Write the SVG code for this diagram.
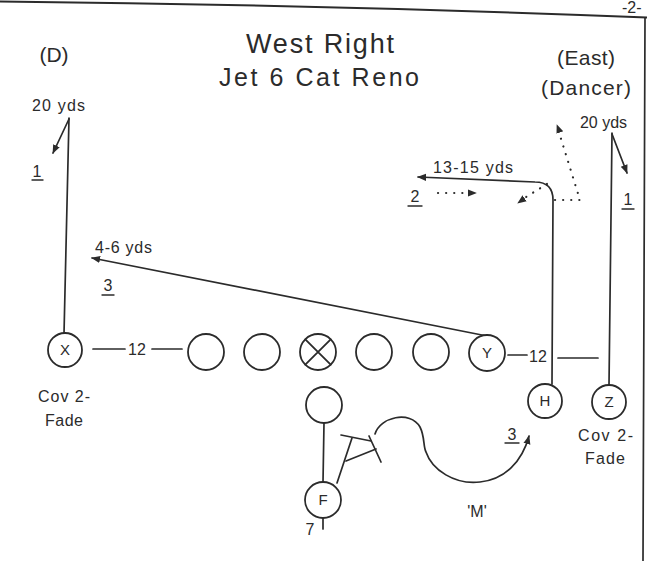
<svg xmlns="http://www.w3.org/2000/svg" width="647" height="561" viewBox="0 0 647 561">
<defs>
<style>
.t{font-family:"Liberation Sans",Arial,sans-serif;fill:#2b2b2b}
.s{font-size:16px}
.ln{stroke:#2b2b2b;stroke-width:1.7;fill:none;stroke-linecap:round}
.dot{stroke:#2b2b2b;stroke-width:2.2;fill:none;stroke-dasharray:0.1 8;stroke-linecap:round}
.pl{stroke:#2b2b2b;stroke-width:1.8;fill:#fff}
.c{font-family:"Liberation Sans",Arial,sans-serif;font-size:15px;fill:#2b2b2b;text-anchor:middle}
</style>
<marker id="ah" viewBox="0 0 10 10" refX="9" refY="5" markerWidth="9" markerHeight="9" markerUnits="userSpaceOnUse" orient="auto">
<path d="M0,1 L10,5 L0,9 z" fill="#2b2b2b"/>
</marker>
</defs>
<rect width="647" height="561" fill="#fff"/>

<g id="frame">
<path class="ln" d="M0,1.5 Q330,5 647,17.5" style="stroke-width:2"/>
<line class="ln" x1="645" y1="18" x2="643" y2="561"/>
<text class="t s" x="622" y="13">-2-</text>
</g>

<g id="titles">
<text class="t" x="246" y="53" font-size="27" textLength="148">West Right</text>
<text class="t" x="219" y="86" font-size="25" textLength="200">Jet 6 Cat Reno</text>
<text class="t" x="54" y="62" font-size="21" text-anchor="middle">(D)</text>
<text class="t" x="557" y="65" font-size="21" textLength="58">(East)</text>
<text class="t" x="541" y="95" font-size="21" textLength="90">(Dancer)</text>
</g>

<g id="connectors">
<!-- X route -->
<line class="ln" x1="64" y1="334" x2="69" y2="118"/>
<line class="ln" x1="69" y1="119" x2="53" y2="153" marker-end="url(#ah)"/>
<!-- Y route -->
<line class="ln" x1="487" y1="336" x2="92" y2="258" marker-end="url(#ah)"/>
<!-- H route -->
<path class="ln" d="M552,384 L553,200 Q553,182 535,182 L418,177" marker-end="url(#ah)"/>
<path class="dot" d="M555,200 L580,200 L557,126"/>
<path class="ln" d="M562,138 L557,125" marker-end="url(#ah)" style="stroke-width:0"/>
<path class="dot" d="M547,184 L526,197"/>
<path class="ln" d="M525,198 L518,203" marker-end="url(#ah)" style="stroke-width:0"/>
<path class="dot" d="M438,193 L468,193"/>
<path class="ln" d="M466,193 L476,193" marker-end="url(#ah)" style="stroke-width:0"/>
<!-- Z route -->
<line class="ln" x1="609" y1="385" x2="612" y2="133"/>
<line class="ln" x1="612" y1="134" x2="627" y2="173" marker-end="url(#ah)"/>
<!-- splits -->
<line class="ln" x1="93" y1="349" x2="125" y2="349"/>
<line class="ln" x1="152" y1="349" x2="182" y2="349"/>
<line class="ln" x1="508" y1="355" x2="527" y2="355"/>
<line class="ln" x1="558" y1="358" x2="598" y2="358"/>
<!-- backfield -->
<line class="ln" x1="324" y1="423" x2="323" y2="482"/>
<line class="ln" x1="323" y1="518" x2="323" y2="529"/>
<line class="ln" x1="337" y1="483" x2="352" y2="438"/>
<line class="ln" x1="341" y1="435" x2="371" y2="441"/>
<line class="ln" x1="346" y1="461" x2="376" y2="449"/>
<line class="ln" x1="369" y1="436" x2="381" y2="462"/>
<path class="ln" d="M375,434 C380,417 410,410 420,427 C425,437 423,446 426,452 C432,470 455,485 480,482 C505,479 522,462 529,436" marker-end="url(#ah)"/>
</g>

<g id="labels">
<text class="t s" x="32" y="111" textLength="53">20 yds</text>
<text class="t s" x="580" y="128" textLength="47">20 yds</text>
<text class="t s" x="95" y="253" textLength="57">4-6 yds</text>
<text class="t s" x="433" y="173" textLength="80">13-15 yds</text>
<text class="t" x="37" y="177" font-size="16" text-anchor="middle">1</text>
<line class="ln" x1="32" y1="180" x2="43" y2="180" style="stroke-width:1.4"/>
<text class="t" x="628" y="205" font-size="16" text-anchor="middle">1</text>
<line class="ln" x1="622" y1="209" x2="634" y2="209" style="stroke-width:1.4"/>
<text class="t" x="415" y="202" font-size="16" text-anchor="middle">2</text>
<line class="ln" x1="408" y1="206" x2="422" y2="206" style="stroke-width:1.4"/>
<text class="t" x="108" y="291" font-size="16" text-anchor="middle">3</text>
<line class="ln" x1="102" y1="295" x2="114" y2="295" style="stroke-width:1.4"/>
<text class="t" x="512" y="440" font-size="16" text-anchor="middle">3</text>
<line class="ln" x1="505" y1="443" x2="519" y2="443" style="stroke-width:1.4"/>
<text class="t s" x="137" y="355" text-anchor="middle">12</text>
<text class="t s" x="538" y="362" text-anchor="middle">12</text>
<text class="t s" x="38" y="402" textLength="52">Cov 2-</text>
<text class="t s" x="45" y="426" textLength="38">Fade</text>
<text class="t s" x="578" y="441" textLength="55">Cov 2-</text>
<text class="t s" x="585" y="464" textLength="40">Fade</text>
<text class="t" x="477" y="517" font-size="16" text-anchor="middle">'M'</text>
<text class="t s" x="310" y="535" text-anchor="middle">7</text>
</g>

<g id="X"><circle class="pl" cx="65" cy="350" r="17"/><text class="c" x="65" y="355">X</text></g>
<g id="LT"><circle class="pl" cx="206" cy="352" r="18"/></g>
<g id="LG"><circle class="pl" cx="262" cy="352" r="18"/></g>
<g id="C"><circle class="pl" cx="318" cy="352" r="18"/><path class="ln" d="M305.3,339.3 L330.7,364.7 M330.7,339.3 L305.3,364.7" style="stroke-width:1.8"/></g>
<g id="RG"><circle class="pl" cx="374" cy="352" r="18"/></g>
<g id="RT"><circle class="pl" cx="431" cy="352" r="18"/></g>
<g id="Y"><circle class="pl" cx="487" cy="353" r="18"/><text class="c" x="487" y="358">Y</text></g>
<g id="H"><circle class="pl" cx="545" cy="401" r="17"/><text class="c" x="545" y="406">H</text></g>
<g id="Z"><circle class="pl" cx="609" cy="402" r="17"/><text class="c" x="609" y="407">Z</text></g>
<g id="QB"><circle class="pl" cx="324" cy="405" r="18"/></g>
<g id="F"><circle class="pl" cx="323" cy="500" r="18"/><text class="c" x="323" y="505">F</text></g>
</svg>
